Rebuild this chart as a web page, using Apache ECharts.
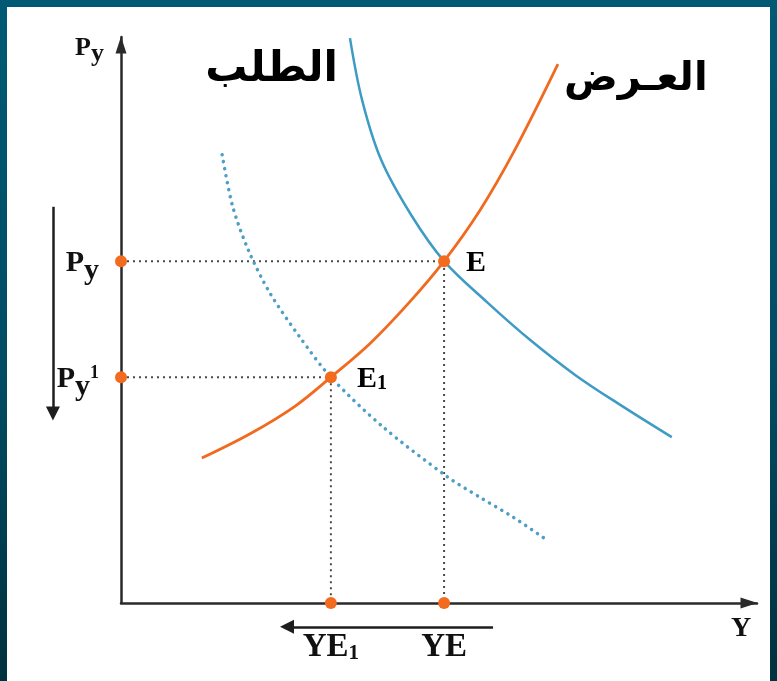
<!DOCTYPE html>
<html><head><meta charset="utf-8">
<script src="https://cdn.jsdelivr.net/npm/echarts@6/dist/echarts.min.js"></script>
<style>
html,body{margin:0;padding:0;width:777px;height:681px;overflow:hidden;background:linear-gradient(180deg,#005a74 0%,#004c63 55%,#00313f 100%);}
#panel{position:absolute;left:7px;top:7px;width:763px;height:674px;background:#fff;}
#chart{position:absolute;left:0;top:0;width:777px;height:681px;}
</style></head><body><div id="panel"></div><div id="chart"></div>
<script>
// Supply curve (العرض)
const supplyX = [12.7, 20.3, 27.4, 33.0, 39.2, 45.4, 50.8, 56.4, 61.9, 68.7];
const supplyY = [25.6, 29.9, 34.8, 39.9, 45.9, 53.2, 60.4, 69.3, 80.0, 95.2];
// Demand curve (الطلب), listed from the bottom-right end to the top end
const demandX = [86.6, 78.5, 71.4, 64.3, 57.5, 50.8, 45.6, 40.9, 37.9, 36.0];
const demandY = [29.3, 35.0, 40.3, 46.5, 53.2, 60.4, 68.6, 78.3, 88.9, 99.8];
// Shifted demand curve (dotted)
const demand2X = [15.9, 17.5, 20.0, 23.4, 28.1, 33.0, 41.2, 51.3, 56.4, 61.6, 67.0];
const demand2Y = [79.2, 70.3, 62.4, 54.8, 47.0, 39.9, 31.1, 22.3, 18.7, 15.2, 11.1];
// Equilibrium points
const eqNames = ['E', 'E1'];
const eqX = [50.8, 33.0];
const eqY = [60.4, 39.9];
// Axis tick labels
const yTickNames = ['Py', 'Py1'];
const xTickNames = ['YE', 'YE1'];
// Curve names
const supplyName = 'العـرض';
const demandName = 'الطلب';
// Shift arrows (data coordinates)
const priceArrowX = -10.7, priceArrowFrom = 70.0, priceArrowTo = 33.5;
const qtyArrowY = -4.2, qtyArrowFrom = 58.5, qtyArrowTo = 26.1;

const serif = 'Liberation Serif';
const zip = (xs, ys) => xs.map((x, i) => [x, ys[i]]);

const tickRich = {
  p: {fontFamily: serif, fontWeight: 'bold', fontSize: 30, color: '#111', lineHeight: 26, verticalAlign: 'top'},
  s: {fontFamily: serif, fontWeight: 'bold', fontSize: 30, color: '#111', lineHeight: 46, verticalAlign: 'middle'},
  n: {fontFamily: serif, fontWeight: 'bold', fontSize: 18, color: '#111', lineHeight: 36, verticalAlign: 'top'},
  a: {fontFamily: serif, fontWeight: 'bold', fontSize: 33, color: '#111', lineHeight: 34, verticalAlign: 'bottom'},
  b: {fontFamily: serif, fontWeight: 'bold', fontSize: 21, color: '#111', lineHeight: 24, verticalAlign: 'bottom'}
};
function pyLabel(name) {
  return name === 'Py' ? '{p|P}{s|y}' : '{p|P}{s|y}{n|1}';
}
function yeLabel(name) {
  return name === 'YE' ? '{a|YE}' : '{a|YE}{b|1}';
}

const chart = echarts.init(document.getElementById('chart'), null, {renderer: 'canvas'});
const axisLineStyle = {color: '#2a2a2a', width: 2.5};

const option = {
  backgroundColor: 'transparent',
  animation: false,
  grid: {left: 121, top: 37, right: 20, bottom: 78, containLabel: false},
  xAxis: {
    type: 'value', min: 0, max: 100,
    axisLine: {show: true, onZero: false, lineStyle: axisLineStyle, symbol: ['none', 'triangle'], symbolSize: [11, 17], symbolOffset: [0, -8]},
    axisTick: {show: false}, splitLine: {show: false},
    axisLabel: {
      customValues: eqX.slice(),
      margin: 27,
      formatter: v => yeLabel(xTickNames[eqX.indexOf(v)]),
      rich: tickRich
    },
    name: 'Y', nameLocation: 'end', nameGap: -16,
    nameTextStyle: {fontFamily: serif, fontWeight: 'bold', fontSize: 28, color: '#111', align: 'center', verticalAlign: 'top', padding: [12, 0, 0, 0]}
  },
  yAxis: {
    type: 'value', min: 0, max: 100,
    axisLine: {show: true, onZero: false, lineStyle: axisLineStyle, symbol: ['none', 'triangle'], symbolSize: [11, 17], symbolOffset: [0, -8]},
    axisTick: {show: false}, splitLine: {show: false},
    axisLabel: {
      customValues: eqY.slice(),
      margin: 22,
      formatter: v => pyLabel(yTickNames[eqY.indexOf(v)]),
      rich: tickRich,
      padding: [20, 0, 0, 0]
    },
    name: '{p|P}{s|y}', nameLocation: 'end', nameGap: 2,
    nameTextStyle: {
      align: 'right', verticalAlign: 'top', padding: [0, 17, 0, 0],
      rich: {
        p: {fontFamily: serif, fontWeight: 'bold', fontSize: 26, color: '#111', lineHeight: 22, verticalAlign: 'top'},
        s: {fontFamily: serif, fontWeight: 'bold', fontSize: 26, color: '#111', lineHeight: 38, verticalAlign: 'middle'}
      }
    }
  },
  series: [
    // guide lines
    ...eqX.map((x, i) => ({
      type: 'line', data: [[0, eqY[i]], [x, eqY[i]], [x, 0]], symbol: 'none', silent: true, z: 1,
      lineStyle: {color: '#4a4a4a', width: 2, type: [2, 4]}
    })),
    {
      type: 'line', name: 'demand2', data: zip(demand2X, demand2Y), smooth: 0.3, symbol: 'none', z: 2,
      lineStyle: {color: '#4e9ec6', width: 3.5, type: [0.1, 7], cap: 'round'}
    },
    {
      type: 'line', name: 'demand', data: zip(demandX, demandY), smooth: 0.35, symbol: 'none', z: 3,
      lineStyle: {color: '#3d9bc4', width: 2.5}
    },
    {
      type: 'line', name: 'supply', data: zip(supplyX, supplyY), smooth: 0.35, symbol: 'none', z: 4,
      lineStyle: {color: '#f06a1f', width: 2.8}
    },
    // curve name tags anchored at curve ends
    {
      type: 'scatter', symbolSize: 0, silent: true, z: 5, clip: false,
      itemStyle: {opacity: 1},
      data: [
        {value: [supplyX[supplyX.length - 1], supplyY[supplyY.length - 1]],
         label: {show: true, position: 'right', distance: 6, offset: [0, 15], fontSize: 40, formatter: supplyName}},
        {value: [demandX[demandX.length - 1], demandY[demandY.length - 1]],
         label: {show: true, position: 'left', distance: 12, offset: [0, 32], formatter: demandName}}
      ],
      label: {fontFamily: 'DejaVu Sans', fontWeight: 'bold', fontSize: 42, color: '#000'}
    },
    // arrows showing the shift
    {
      type: 'lines', coordinateSystem: 'cartesian2d', clip: false, silent: true, z: 5,
      symbol: ['none', 'triangle'], symbolSize: 14,
      lineStyle: {color: '#1e1e1e', width: 2.5, opacity: 1, curveness: 0},
      data: [
        {coords: [[priceArrowX, priceArrowFrom], [priceArrowX, priceArrowTo]]},
        {coords: [[qtyArrowFrom, qtyArrowY], [qtyArrowTo, qtyArrowY]]}
      ]
    },
    // equilibrium points and their projections
    {
      type: 'scatter', symbolSize: 12, clip: false, z: 10,
      itemStyle: {color: '#f26b1e', opacity: 1},
      data: eqX.flatMap((x, i) => [
        {value: [x, eqY[i]], name: eqNames[i],
         label: {show: true, position: 'right', distance: i === 0 ? 16 : 20, offset: [0, 2],
                 formatter: eqNames[i] === 'E' ? '{a|E}' : '{a|E}{b|1}',
                 rich: {
                   a: {fontFamily: serif, fontWeight: 'bold', fontSize: 30, color: '#000', lineHeight: 30, verticalAlign: 'bottom'},
                   b: {fontFamily: serif, fontWeight: 'bold', fontSize: 20, color: '#000', lineHeight: 21, verticalAlign: 'bottom'}
                 }}},
        {value: [0, eqY[i]]},
        {value: [x, 0]}
      ])
    }
  ]
};
chart.setOption(option);
</script>
</body></html>
